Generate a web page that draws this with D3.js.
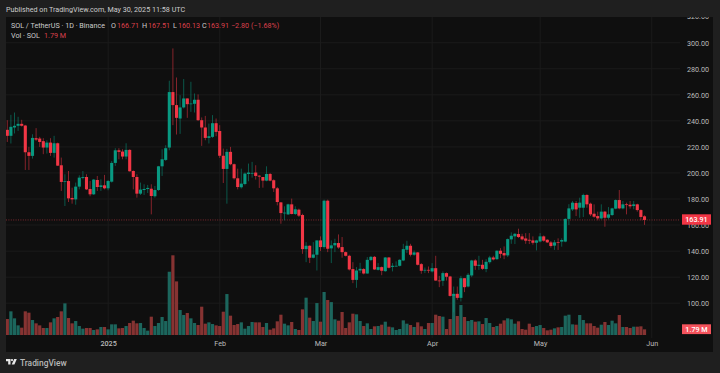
<!DOCTYPE html>
<html>
<head>
<meta charset="utf-8">
<script src="https://cdn.jsdelivr.net/npm/d3@7"></script>
<style>
  html, body { margin: 0; padding: 0; background: #1f1f1f; }
  svg { display: block; }
  text { font-family: Roboto, sans-serif; }
</style>
</head>
<body>
<div id="chart"></div>
<script>
const opens = [
  233.1,228.5,234.9,236.2,237.7,236.4,215.9,213.1,226.7,226.4,
  224.4,219.5,223.3,215.4,222.8,205.9,193.1,193.8,180.8,179.7,
  189.5,196.2,196.9,187.7,183.6,194.6,189.2,190.5,188.2,193.3,
  207.7,217.4,216.4,212.6,217.7,201.5,196.9,184.1,186.9,187.7,
  187.9,182.1,186.9,205.1,210,219.5,262.1,252.1,241.8,250.3,
  257.2,253.1,253.1,256.2,240.5,234.9,226.9,227.7,238.2,232.2,
  213.2,203.1,216.2,206.7,195.9,189,191.5,199.2,199.8,200.3,
  197.9,196.9,194.1,199.2,194.4,188.2,177.4,169.2,168.2,175.9,
  168.5,171.8,167.7,141.5,144.1,134.9,137.2,148.2,143.1,178.7,
  142.1,144.4,146.2,143.1,139.2,136.4,126.2,117.9,125.1,126.2,
  122.8,133.1,135.6,125.6,127.7,124.6,135.1,127.9,128.2,128.7,
  132.8,141,144.1,137.2,139,130,125.1,125.6,124.4,126.9,
  117.4,117.2,123.1,120.5,105.6,107.2,104.1,119.2,112.8,121.3,
  132.8,128.7,129.5,126.2,131.5,135.1,133.8,140.3,138.5,136.7,
  149,151.3,153.1,151.3,149.7,148.7,148.2,146.4,147.4,151.3,
  148.7,146.7,144.2,147,147.3,147.3,164.7,172,176.9,173.3,
  173.3,183.1,176.4,168.7,166.9,165.1,170.3,165.6,167.7,172.6,
  179.2,172.8,175.9,175.6,174.6,175.9,171.5,166.71,
];
const highs = [
  240.5,244.6,246.4,243.1,240.8,236.9,220,229.7,234.4,227.7,
  226.7,225.1,226.7,228.5,223.3,211.8,199,201.5,188.7,192.6,
  198.2,201.5,199,193.8,195.4,197.7,195.1,198.5,194.6,209.2,
  219,219,218.2,222.8,218.2,202,199,192.6,191.3,190.8,
  191.3,190,205.4,218.2,221.3,270.8,295.6,273.3,259.7,272.1,
  257.2,270,261,260.3,242.6,243.8,237.9,244.4,241.8,236.7,
  218.7,218.5,220,207.2,203.3,203.3,200.3,207.2,208.5,205.9,
  198.2,196.9,205.1,200,195.1,189.2,177.7,174.4,176.4,180.3,
  174.4,172.6,168.7,146.9,144.4,146.9,148.2,151.3,179.5,179.5,
  148.2,149.5,152.8,150.8,139.7,137.2,131.5,127.7,131,126.9,
  135.4,136.2,136.2,130.8,128.2,135.4,135.4,130.8,132.1,133.8,
  145.6,147.9,145.6,140.5,139.2,130.8,127.4,128.2,130.8,136.4,
  121,124.4,123.6,121,112.8,112.8,121,119.2,123.1,133.3,
  133.8,136.4,133.3,133.8,136.4,136.4,140.5,142.3,143.6,149.7,
  154.4,153.8,157.2,153.3,153.8,153.8,151.3,148.7,153.8,152,
  149.2,147.8,148.5,149.8,149.8,165.2,176,178.5,178.5,181,
  184.1,183.6,177.2,175.9,170.3,175.9,170.8,173.8,173.3,179.7,
  186.9,178.5,177.2,178.5,178.5,176.4,172,167.51,
];
const lows = [
  223.8,222.6,230.3,232.3,235.6,202.3,202.3,211,224.6,220,
  214.4,214.9,213.1,211.8,205.4,186.2,174.6,177.7,176.4,175.6,
  187.4,195.1,186.9,182.1,183.1,186.2,186.2,187.4,186.7,192.6,
  205.4,210.5,210.5,210.5,201,187.4,181,183.1,183.1,184.6,
  168.2,181,186.2,197.7,209.2,217.4,236.7,229.5,230,249.5,
  242.3,246.9,246.4,240,220.8,225.1,222.6,226.9,228.2,211.5,
  192.3,176.4,205.9,194.9,187.4,188,190.5,193.6,196.4,194.9,
  188.5,188.7,193.6,193.6,185.4,175.1,161,163.6,167.7,168.2,
  167.7,166.2,137.9,131.5,130.8,134.4,125.1,140,141.8,139.2,
  130.8,139.2,141.8,134.9,135.9,125.1,115.4,111.8,123.1,122.1,
  122.6,132.3,125.6,125.1,121.5,124.1,126.7,124.4,128.2,128.2,
  132.3,138.5,135.9,136.4,129,122.6,123.1,123.1,123.6,117.2,
  112.3,113.3,117.4,105.1,93,102.6,101.3,108.5,112.1,120,
  125.6,125.6,125.6,123.8,130.3,132.8,133.3,134.6,133.8,135.4,
  145.6,145.4,150,148.2,145.6,145.4,144.9,140.5,146.7,147.2,
  146.2,142.6,140.9,140.9,143.4,146.8,160,170.8,166.9,165.6,
  166.2,173.3,166.9,165.6,163.6,164.4,158.7,164.4,166.9,172.1,
  172.1,172.1,168.2,172.6,172.1,170.3,163.6,160.13,
];
const closes = [
  228.5,235.4,236.2,237.7,236.2,215.9,213.1,226.9,225.6,223.8,
  219.5,223.3,215.4,222.8,205.6,193.1,193.6,180.5,179.7,189.5,
  196.4,196.9,187.4,183.6,194.9,189.2,190.5,188.2,193.8,207.7,
  217.4,216.2,212.6,217.7,201.3,196.9,184.1,187.2,187.7,188.5,
  182.3,186.9,205.1,210.5,219,262.1,252.1,242.3,250.3,257.2,
  252.8,253.3,256.2,240.5,234.9,226.9,228.2,238.2,231.5,213.2,
  203.1,216.2,206.7,195.9,189.2,191.8,199.5,200.3,200,197.7,
  197.2,194.1,199.2,194.1,188.2,177.7,169.2,169.5,175.9,168.5,
  172.1,167.2,141.5,144.1,134.9,137.4,148.2,143.1,178.7,141.8,
  144.4,146.2,142.8,139.2,136.4,125.9,117.9,125.1,126.4,122.8,
  133.3,135.6,125.9,127.7,124.9,135.1,127.2,128.7,128.7,133.3,
  141.5,144.1,137.2,139,129.5,124.9,125.6,125.1,126.9,117.4,
  117.2,123.1,120.3,105.6,107.2,104.1,119.2,112.3,121.8,132.8,
  128.7,129.5,126.4,131.8,135.1,133.6,140.3,137.9,136.7,149.2,
  151.8,153.3,150.8,149,148,148,146.4,148.2,151.3,148,
  146.7,143.9,146.7,146.5,148.5,164.7,172.8,177.2,172,177.2,
  183.1,175.9,168.2,166.4,165.1,170.3,165.6,168.2,172.8,179.2,
  172.8,175.9,175.4,174.4,175.9,171.5,166.2,163.91,
];
// volume in millions
const volumes = [
  5.05,7.48,5.27,3.05,2.32,7.48,7.06,4.74,3.69,3.05,
  2.21,2.21,4,5.27,5.69,7.48,10,5.37,3.69,4.42,
  2.84,2,2.21,2.21,1.58,1.79,2.53,2.53,1.79,3.37,
  3.37,2.11,2.21,2.84,3.79,4.53,3.69,3.79,2.21,1.37,
  5.79,2.84,3.79,5.69,4.42,20,25.2,16.95,7.9,6.32,
  6.95,5.27,3.79,3.16,8.95,3.58,4,3.47,3.05,2.84,
  7.37,12.95,6.11,3.16,3.47,4,2,2.84,4.11,4,
  4,2.53,3.79,1.68,2.11,4.32,6.42,3.58,3.05,4.11,
  1.9,1.58,8.11,11.8,5.48,4.42,10.1,4.21,13.6,11.06,
  10.4,4.95,4.53,7.27,2.21,4,6.74,6.53,4.42,2.84,
  3.69,1.9,2.74,2.84,3.26,4.21,2.63,2.42,1.58,1.9,
  4.63,3.58,3.16,2.53,4,2.74,1.9,3.79,3.79,6.42,
  6,5.79,1.9,5.05,12.95,6,9.48,5.69,4.42,4.74,
  4.21,4.32,3.47,5.37,3.79,2.53,2.84,3.58,4.63,5.27,
  4.95,3.58,4.32,1.9,1.68,3.58,2.53,2.84,3.16,2.21,
  1.47,1.68,2.11,2.42,2.53,6.11,6.42,3.37,3.26,6.32,
  4.74,3.69,3.69,2.84,2.32,3.26,4.11,3.16,4.53,3.69,
  6.32,2.53,2.53,2.21,2.63,2.63,2.74,1.79,
];
const priceTicks = [100, 120, 140, 160, 180, 200, 220, 240, 260, 280, 300, 320];
const monthTicks = ['2025-01-01', '2025-02-01', '2025-03-01', '2025-04-01', '2025-05-01', '2025-06-01'];
const monthLabels = ['2025', 'Feb', 'Mar', 'Apr', 'May', 'Jun'];
const firstDay = '2024-12-04';
const lastDay = '2025-06-01';
const lastPrice = 163.91;
const lastVolume = 1.79;

const width = 720;
const height = 373;
const panel = { left: 6, right: 713, top: 17, bottom: 352 };
const plotRight = 680;

const colorUp = '#089981';
const colorDown = '#f23645';
const volUp = '#1c665d';
const volDown = '#863332';
const gridColor = '#1b1b1b';
const axisText = '#bcbcbc';

const parse = d3.utcParse('%Y-%m-%d');
const days = d3.utcDay.range(parse(firstDay), parse(lastDay));

const candles = opens.map((o, i) => ({
  date: days[i], o, h: highs[i], l: lows[i], c: closes[i], v: volumes[i],
}));

const x = d3.scaleUtc()
  .domain([parse(firstDay), parse(lastDay)])
  .range([7.3, 651.7]);
const y = d3.scaleLinear()
  .domain([100, 300])
  .range([303.2, 42.7]);
const yVol = d3.scaleLinear()
  .domain([0, 25.2])
  .range([335, 255.3]);

const svg = d3.select('#chart')
  .append('svg')
  .attr('width', width)
  .attr('height', height);

svg.append('rect')
  .attr('width', width)
  .attr('height', height)
  .attr('fill', '#1f1f1f');

svg.append('rect')
  .attr('x', panel.left)
  .attr('y', panel.top)
  .attr('width', panel.right - panel.left)
  .attr('height', panel.bottom - panel.top)
  .attr('fill', '#0f0f0f');

svg.append('clipPath')
  .attr('id', 'panel-clip')
  .append('rect')
  .attr('x', panel.left)
  .attr('y', panel.top)
  .attr('width', panel.right - panel.left)
  .attr('height', panel.bottom - panel.top);

const root = svg.append('g').attr('clip-path', 'url(#panel-clip)');

// Grid
root.append('g')
  .selectAll('line')
  .data(priceTicks)
  .join('line')
  .attr('x1', panel.left)
  .attr('x2', plotRight)
  .attr('y1', d => y(d))
  .attr('y2', d => y(d))
  .attr('stroke', gridColor);

root.append('g')
  .selectAll('line')
  .data(monthTicks)
  .join('line')
  .attr('x1', d => x(parse(d)))
  .attr('x2', d => x(parse(d)))
  .attr('y1', panel.top)
  .attr('y2', 338)
  .attr('stroke', gridColor);

// Volume
root.append('g')
  .selectAll('rect')
  .data(candles)
  .join('rect')
  .attr('x', d => x(d.date) - 1.6)
  .attr('width', 3.2)
  .attr('y', d => yVol(d.v))
  .attr('height', d => yVol(0) - yVol(d.v))
  .attr('fill', d => (d.c >= d.o ? volUp : volDown));

// Last price line
root.append('line')
  .attr('x1', panel.left)
  .attr('x2', plotRight)
  .attr('y1', y(lastPrice))
  .attr('y2', y(lastPrice))
  .attr('stroke', '#9c3038')
  .attr('stroke-width', 0.8)
  .attr('stroke-dasharray', '1 1.4');

// Candles
const candle = root.append('g')
  .selectAll('g')
  .data(candles)
  .join('g')
  .attr('fill', d => (d.c >= d.o ? colorUp : colorDown))
  .attr('stroke', d => (d.c >= d.o ? colorUp : colorDown));

candle.append('line')
  .attr('x1', d => x(d.date))
  .attr('x2', d => x(d.date))
  .attr('y1', d => y(d.h))
  .attr('y2', d => y(d.l))
  .attr('stroke-width', 0.7)
  .attr('stroke-opacity', 0.75);

candle.append('rect')
  .attr('x', d => x(d.date) - 1.55)
  .attr('width', 3.1)
  .attr('y', d => y(Math.max(d.o, d.c)))
  .attr('height', d => Math.max(0.7, Math.abs(y(d.o) - y(d.c))))
  .attr('stroke', 'none');

// Axes
const priceAxis = root.append('g')
  .attr('transform', `translate(${plotRight + 7}, 0)`)
  .call(d3.axisRight(y).tickValues(priceTicks).tickFormat(d3.format('.2f')).tickSize(0).tickPadding(0));
priceAxis.select('.domain').remove();
priceAxis.selectAll('text')
  .attr('fill', axisText)
  .style('font-size', '7.2px');

const timeAxis = root.append('g')
  .attr('transform', 'translate(0, 341)')
  .call(d3.axisBottom(x)
    .tickValues(monthTicks.map(parse))
    .tickFormat((d, i) => monthLabels[i])
    .tickSize(0)
    .tickPadding(0));
timeAxis.select('.domain').remove();
timeAxis.selectAll('text')
  .attr('fill', axisText)
  .style('font-size', '7.2px');
timeAxis.selectAll('text')
  .filter((d, i) => i === 0)
  .style('font-weight', 500);

// Last value labels
function valueLabel(yPos, h, fill, label) {
  svg.append('rect')
    .attr('x', 682)
    .attr('y', yPos - h / 2)
    .attr('width', 29)
    .attr('height', h)
    .attr('fill', fill);
  svg.append('text')
    .attr('x', 696.5)
    .attr('y', yPos + 2.6)
    .attr('text-anchor', 'middle')
    .attr('fill', '#ffffff')
    .style('font-size', '7.2px')
    .style('font-weight', 500)
    .text(label);
}
valueLabel(219.5, 10.4, colorDown, d3.format('.2f')(lastPrice));
valueLabel(329.2, 9.8, '#f5535c', `${lastVolume} M`);

// Header and legend
svg.append('text')
  .attr('x', 6)
  .attr('y', 11.6)
  .attr('fill', '#cccccc')
  .style('font-size', '7.2px')
  .text('Published on TradingView.com, May 30, 2025 11:58 UTC');

const legendRed = '#dc404c';
const legendText = [
  [11, 28, 'SOL / TetherUS · 1D · Binance', '#cccccc'],
  [111, 28, 'O', '#cccccc'], [117, 28, '166.71', legendRed],
  [142, 28, 'H', '#cccccc'], [148, 28, '167.51', legendRed],
  [173, 28, 'L', '#cccccc'], [178, 28, '160.13', legendRed],
  [202, 28, 'C', '#cccccc'], [207, 28, '163.91', legendRed],
  [231, 28, '−2.80 (−1.68%)', legendRed],
  [11, 38, 'Vol · SOL', '#cccccc'],
  [44, 38, '1.79 M', legendRed],
];
svg.append('g')
  .selectAll('text')
  .data(legendText)
  .join('text')
  .attr('x', d => d[0])
  .attr('y', d => d[1])
  .attr('fill', d => d[3])
  .style('font-size', '7.2px')
  .text(d => d[2]);

// Footer logo
const logo = svg.append('g')
  .attr('transform', 'translate(6, 359)')
  .attr('fill', '#e8e8e8');
logo.append('path').attr('d', 'M0 0H4.5V5.6H2.2V2.2H0Z');
logo.append('circle').attr('cx', 6).attr('cy', 1.1).attr('r', 1.1);
logo.append('path').attr('d', 'M8.2 0H10.8L8.4 5.6H5.7Z');

svg.append('text')
  .attr('x', 20)
  .attr('y', 365.5)
  .attr('fill', '#b8b8b8')
  .style('font-size', '8.4px')
  .style('font-weight', 500)
  .text('TradingView');
</script>
</body>
</html>
